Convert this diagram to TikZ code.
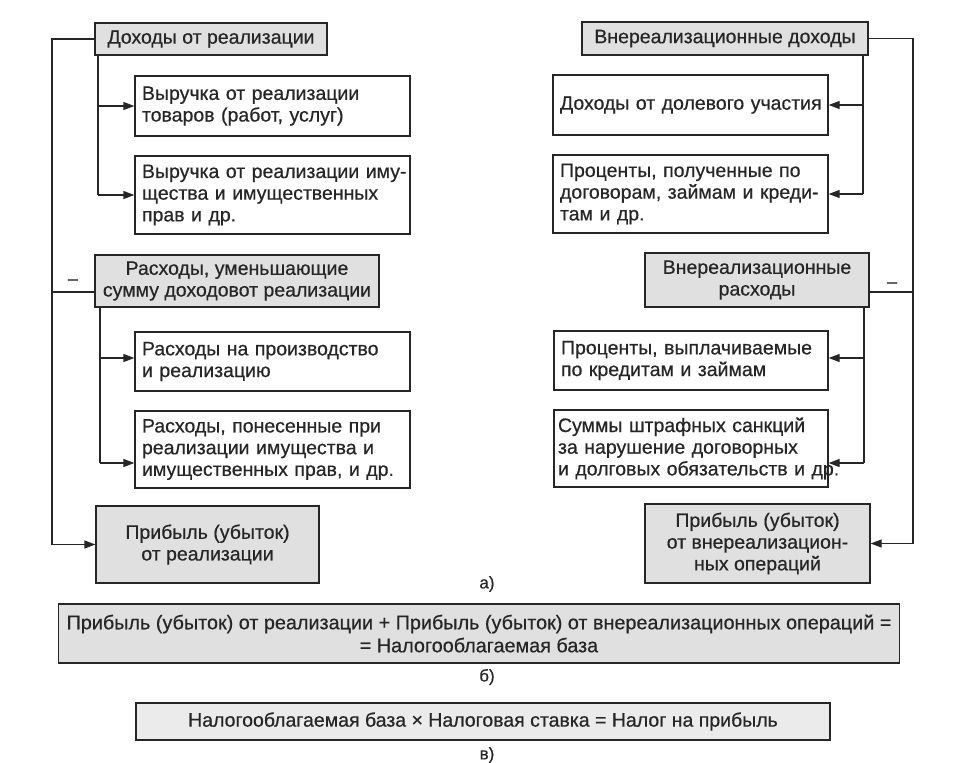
\documentclass[tikz,border=0pt]{standalone}
\usepackage{fontspec}
\setmainfont[FakeBold=0.5]{Liberation Sans}
\usetikzlibrary{arrows.meta,calc}
\definecolor{ink}{HTML}{262626}
\definecolor{hdr}{HTML}{E0E0E0}
\definecolor{hdrlight}{HTML}{EBEBEB}
\newcommand{\oneline}[1]{\mbox{#1}}
\begin{document}
\begin{tikzpicture}[x=1pt,y=-1pt,
  bx/.style={draw=ink, line width=1.3pt, text=ink, inner xsep=8pt, inner ysep=0pt,
    font=\fontsize{19.5}{21.7}\selectfont},
  sub/.style={bx, fill=white, align=left, inner xsep=7pt},
  hd/.style={bx, fill=hdr, align=center},
  ln/.style={draw=ink, line width=1.3pt},
  arr/.style={ln, -{Triangle[length=11pt,width=8pt]}},
  lbl/.style={text=ink, font=\fontsize{17}{20}\selectfont, inner sep=0pt},
  minus/.style={text=ink, font=\fontsize{18}{20}\selectfont, inner sep=0pt}
]
\useasboundingbox (0,0) rectangle (975,763);

% ---------- left column ----------
\node[hd, minimum width=232pt, minimum height=32pt] (h1) at (211,39) {Доходы от реализации};
\node[sub, text width=261pt, minimum height=60pt] (b1) at (272.5,106) {\oneline{Выручка от реализации}\\\oneline{товаров (работ, услуг)}};
\node[sub, text width=261pt, minimum height=78pt] (b2) at (272.5,195) {\oneline{Выручка от реализации иму-}\\\oneline{щества и имущественных}\\\oneline{прав и др.}};
\node[hd, minimum width=284pt, minimum height=52pt] (h2) at (237,281) {Расходы, уменьшающие\\сумму доходовот реализации};
\node[sub, text width=261pt, minimum height=59pt] (b3) at (272.5,361.5) {\oneline{Расходы на производство}\\\oneline{и реализацию}};
\node[sub, text width=261pt, minimum height=77pt] (b4) at (272.5,449.5) {\oneline{Расходы, понесенные при}\\\oneline{реализации имущества и}\\\oneline{имущественных прав, и др.}};
\node[hd, minimum width=223pt, minimum height=77pt] (p1) at (207.5,544.5) {Прибыль (убыток)\\от реализации};

% ---------- right column ----------
\node[hd, minimum width=286pt, minimum height=33pt] (h3) at (725,38.5) {Внереализационные доходы};
\node[sub, text width=261pt, minimum height=60pt] (c1) at (690.5,105) {\oneline{Доходы от долевого участия}};
\node[sub, text width=261pt, minimum height=78pt] (c2) at (690.5,194) {\oneline{Проценты, полученные по}\\\oneline{договорам, займам и креди-}\\\oneline{там и др.}};
\node[hd, minimum width=224pt, minimum height=54pt] (h4) at (757,280) {Внереализационные\\расходы};
\node[sub, text width=260pt, minimum height=59pt] (c3) at (691,360.5) {\oneline{Проценты, выплачиваемые}\\\oneline{по кредитам и займам}};
\node[sub, inner xsep=4pt, text width=266pt, minimum height=77pt] (c4) at (691,448.5) {\oneline{Суммы штрафных санкций}\\\oneline{за нарушение договорных}\\\oneline{и долговых обязательств и др.}};
\node[hd, minimum width=225pt, minimum height=79pt] (p2) at (757.5,543.5) {Прибыль (убыток)\\от внереализацион-\\ных операций};

% ---------- bottom ----------
\node[lbl] (la) at (487,584) {а)};
\node[hd, font=\fontsize{19.8}{23}\selectfont, minimum width=832pt, minimum height=59pt] (fb) at (479,633.5) {Прибыль (убыток) от реализации + Прибыль (убыток) от внереализационных операций =\\= Налогооблагаемая база};
\node[lbl] (lb) at (487,677) {б)};
\node[hd, fill=hdrlight, minimum width=694pt, minimum height=37pt] (fv) at (483,721.5) {Налогооблагаемая база × Налоговая ставка = Налог на прибыль};
\node[lbl] (lv) at (487,755) {в)};

% ---------- connectors, left ----------
\coordinate (Lx) at (52,0);
\coordinate (La) at (98,0);
\coordinate (Lb) at (100,0);
\draw[arr] (h1.west) -- (Lx |- h1.west) |- (p1.west);
\draw[ln] ($(h2.west)+(0,11)$) -- ($(Lx |- h2.west)+(0,11)$);
\node[minus] (m1) at (73,282) {–};
\draw[ln] (La |- h1.south) -- (La |- b2.west);
\draw[arr] (La |- b1.west) -- (b1.west);
\draw[arr] (La |- b2.west) -- (b2.west);
\draw[ln] (Lb |- h2.south) -- ($(Lb |- b4.west)+(0,13.5)$);
\draw[arr] ($(Lb |- b3.west)+(0,-3.5)$) -- ($(b3.west)+(0,-3.5)$);
\draw[arr] ($(Lb |- b4.west)+(0,13.5)$) -- ($(b4.west)+(0,13.5)$);

% ---------- connectors, right ----------
\coordinate (Rx) at (913,0);
\coordinate (Ra) at (863,0);
\coordinate (Rb) at (864,0);
\draw[arr] (h3.east) -- (Rx |- h3.east) |- (p2.east);
\draw[ln] ($(h4.east)+(0,12)$) -- ($(Rx |- h4.east)+(0,12)$);
\node[minus] (m2) at (892,285) {–};
\draw[ln] (Ra |- h3.south) -- (Ra |- c2.east);
\draw[arr] (Ra |- c1.east) -- (c1.east);
\draw[arr] (Ra |- c2.east) -- (c2.east);
\draw[ln] (Rb |- h4.south) -- ($(Rb |- c4.east)+(0,14.5)$);
\draw[arr] ($(Rb |- c3.east)+(0,-2.5)$) -- ($(c3.east)+(0,-2.5)$);
\draw[arr] ($(Rb |- c4.east)+(0,14.5)$) -- ($(c4.east)+(0,14.5)$);
\end{tikzpicture}
\end{document}
